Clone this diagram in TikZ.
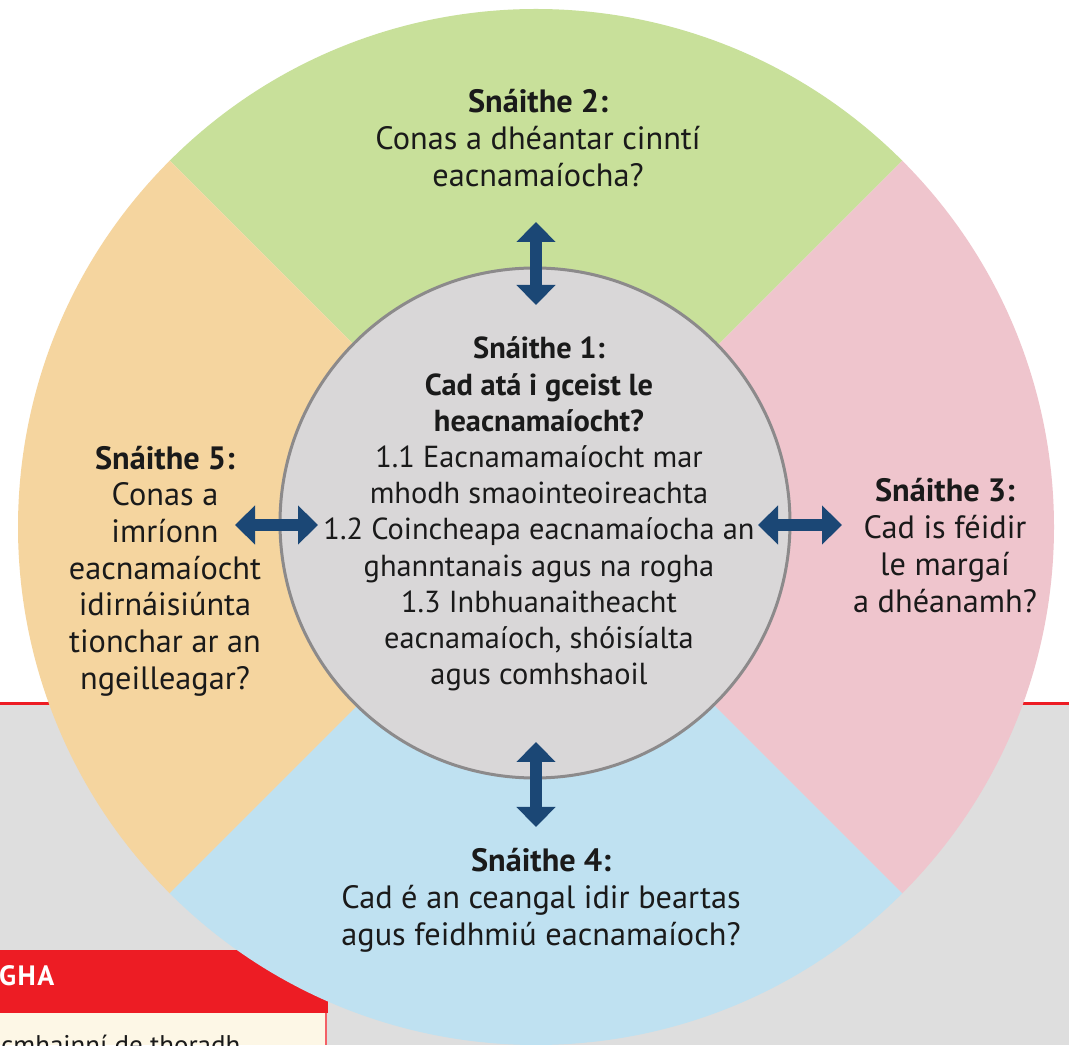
\documentclass[tikz,border=0pt]{standalone}
\usepackage{fontspec}
\setmainfont{PT Sans}
\usetikzlibrary{arrows.meta}
\definecolor{sgreen}{HTML}{C8E09A}
\definecolor{sorange}{HTML}{F5D59F}
\definecolor{spink}{HTML}{EFC5CD}
\definecolor{sblue}{HTML}{BFE1F1}
\definecolor{score}{HTML}{D9D7D8}
\definecolor{sborder}{HTML}{8C8A8B}
\definecolor{navy}{HTML}{1B4775}
\definecolor{bggray}{HTML}{DEDEDE}
\definecolor{sred}{HTML}{ED1C24}
\definecolor{cream}{HTML}{FDF7E6}
\definecolor{txt}{HTML}{1A1A1A}
\begin{document}
\begin{tikzpicture}[x=1pt,y=1pt,
  lbl/.style={align=center, font=\fontsize{32.3}{37}\selectfont, text=txt, inner sep=0pt},
  dblarrow/.style={draw=navy, line width=12.5pt, {Triangle[width=38pt,length=20pt]}-{Triangle[width=38pt,length=20pt]}}
]
\useasboundingbox (0,0) rectangle (1069,1045);
\clip (0,0) rectangle (1069,1045);
% page background
\fill[white] (0,0) rectangle (1069,1045);
\fill[bggray] (0,0) rectangle (1069,340);
\draw[sred, line width=3pt] (0,341.5) -- (1069,341.5);
% bottom-left box
\fill[sred] (0,32) rectangle (328,95);
\fill[cream] (0,0) rectangle (325,32);
\draw[sred!70, line width=2pt] (325.5,0) -- (325.5,32);
\node[anchor=west, text=white, inner sep=0pt, font=\fontsize{28}{30}\selectfont\bfseries] (gha) at (-1,69) {G\kern1.5pt H\kern1.5pt A};
\node[anchor=base west, text=txt, inner sep=0pt, font=\fontsize{27}{32}\selectfont] (cut) at (1,-9) {cmhainní de thoradh};
% outer wedges
\coordinate (O) at (536,518);
\fill[sgreen] (O) -- ++(45:518) arc[start angle=45, end angle=135, radius=518] -- cycle;
\fill[sorange] (O) -- ++(135:518) arc[start angle=135, end angle=225, radius=518] -- cycle;
\fill[sblue] (O) -- ++(225:518) arc[start angle=225, end angle=315, radius=518] -- cycle;
\fill[spink] (O) -- ++(-45:518) arc[start angle=-45, end angle=45, radius=518] -- cycle;
% core circle
\node[circle, fill=score, draw=sborder, line width=3pt, minimum size=510pt, inner sep=0pt] (core) at (535,522) {};
% texts
\node[lbl] (s2) at (538,907) {\textbf{Snáithe 2:}\\Conas a dhéantar cinntí\\eacnamaíocha?};
\node[lbl, font=\fontsize{30.4}{36.2}\selectfont] (s1) at (539,531) {\textbf{Snáithe 1:}\\\textbf{Cad atá i gceist le}\\\textbf{heacnamaíocht?}\\1.1 Eacnamamaíocht mar\\mhodh smaointeoireachta\\1.2 Coincheapa eacnamaíocha an\\ghanntanais agus na rogha\\1.3 Inbhuanaitheacht\\eacnamaíoch, shóisíalta\\agus comhshaoil};
\node[lbl] (s3) at (945,499) {\textbf{Snáithe 3:}\\Cad is féidir\\le margaí\\a dhéanamh?};
\node[lbl, font=\fontsize{32.3}{36.7}\selectfont] (s5) at (165,474) {\textbf{Snáithe 5:}\\Conas a\\imríonn\\eacnamaíocht\\idirnáisiúnta\\tionchar ar an\\ngeilleagar?};
\node[lbl] (s4) at (541,145) {\textbf{Snáithe 4:}\\Cad é an ceangal idir beartas\\agus feidhmiú eacnamaíoch?};
% arrows
\coordinate (tA) at (536,823); \coordinate (tB) at (536,740);
\coordinate (bA) at (536,303); \coordinate (bB) at (536,218);
\coordinate (lA) at (235,520); \coordinate (lB) at (318,520);
\coordinate (rA) at (758,520); \coordinate (rB) at (842,520);
\draw[dblarrow] (tA) -- (tB);
\draw[dblarrow] (bA) -- (bB);
\draw[dblarrow] (lA) -- (lB);
\draw[dblarrow] (rA) -- (rB);
\end{tikzpicture}
\end{document}
